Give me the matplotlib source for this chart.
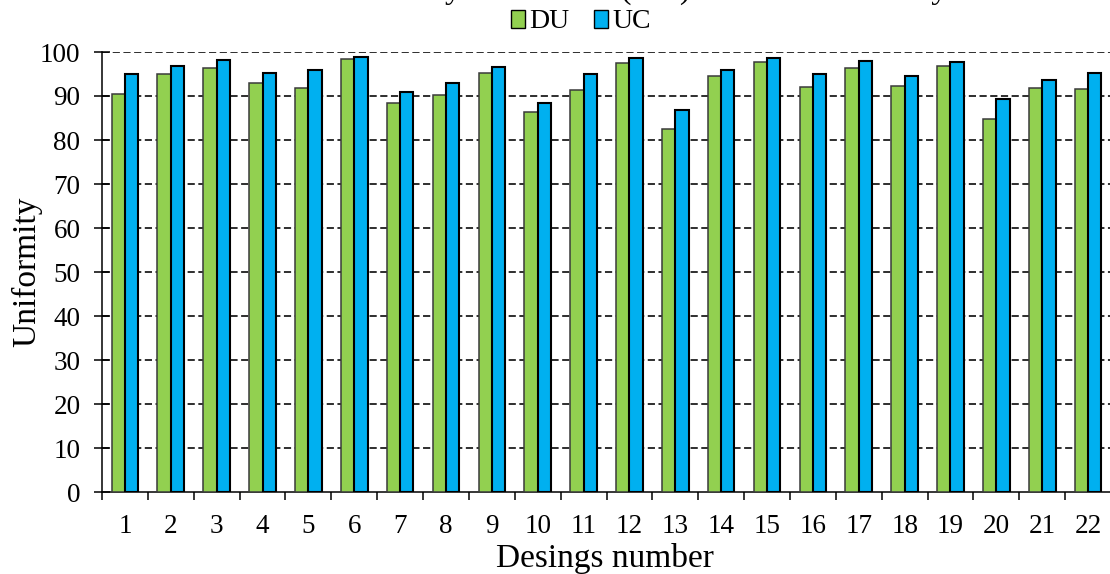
import numpy as np
import matplotlib
matplotlib.use("Agg")
import matplotlib.pyplot as plt

plt.rcParams['font.family'] = ['Liberation Serif', 'DejaVu Serif']

# values
designs = [str(i) for i in range(1, 23)]
du = [90.4, 94.9, 96.4, 93.0, 91.8, 98.3, 88.4, 90.2, 95.3, 86.4, 91.3,
      97.4, 82.4, 94.6, 97.7, 92.1, 96.4, 92.3, 96.8, 84.7, 91.8, 91.5]
uc = [94.9, 96.8, 98.1, 95.3, 95.8, 98.8, 90.8, 92.9, 96.7, 88.5, 94.9,
      98.6, 86.9, 96.0, 98.6, 94.9, 97.9, 94.5, 97.8, 89.3, 93.6, 95.2]
yticks = list(range(0, 101, 10))

green = '#92D050'
blue = '#00B0F0'

fig = plt.figure(figsize=(11.1, 5.74), dpi=100)
ax = fig.add_axes([102 / 1110, 82 / 574, 1009 / 1110, 440 / 574])

x = np.arange(1, len(designs) + 1)
w = 0.29
ax.bar(x - w / 2, du, w, color=green, edgecolor='#3a3a3a', linewidth=1.1,
       label='DU', zorder=3)
ax.bar(x + w / 2, uc, w, color=blue, edgecolor='black', linewidth=1.5,
       label='UC', zorder=3)

ax.set_xlim(0.5, len(designs) + 0.5)
ax.set_ylim(0, 100)
ax.set_yticks(yticks)
ax.set_xticks(x)
ax.set_xticklabels(designs)
ax.set_xticks(np.arange(0.5, len(designs) + 1, 1.0), minor=True)

ax.tick_params(axis='x', which='major', length=0, pad=16, labelsize=19.5)
ax.tick_params(axis='x', which='minor', length=5.5, width=1.1, direction='out')
ax.tick_params(axis='y', length=11, width=1.1, direction='inout', pad=10,
               labelsize=19.5)

for y in yticks[1:]:
    ax.axhline(y, color='black', linewidth=1.15, linestyle=(0, (4.5, 2.2)),
               zorder=1)

ax.spines['top'].set_visible(False)
ax.spines['right'].set_visible(False)
ax.spines['left'].set_linewidth(1.1)
ax.spines['bottom'].set_linewidth(1.1)

ax.set_xlabel('Desings number', fontsize=24)
ax.set_ylabel('Uniformity', fontsize=24)
ax.xaxis.set_label_coords(0.498, -0.15)
ax.xaxis.label.set_va('center')
ax.yaxis.set_label_coords(-0.0745, 0.5)
ax.yaxis.label.set_va('center')

leg = fig.legend(loc='center', bbox_to_anchor=(581 / 1110, 1 - 22 / 574),
                 ncol=2, frameon=False, fontsize=20, handlelength=0.5,
                 handleheight=0.6, handletextpad=0.15, columnspacing=0.9,
                 borderpad=0)
for p in leg.get_patches():
    p.set_edgecolor('black')
    p.set_linewidth(1.0)

# title mostly cut off above the picture, only descenders show (as in the source)
fig.text(149 / 1110, 1 + 2 / 574,
         'Distribution uniformity coefficient (DU) and the uniformity coefficient (UC)',
         fontsize=24, ha='left', va='baseline')

fig.savefig('out.png', dpi=100)
